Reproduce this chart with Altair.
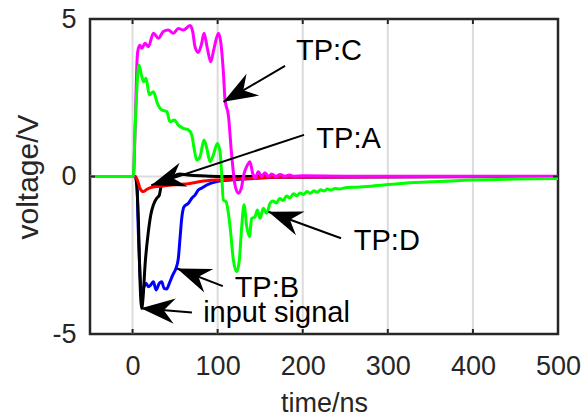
import math
import altair as alt
import pandas as pd

# ---------------- data ----------------
# TP:C (magenta)
tC = [-50, 0, 1, 3, 5.5, 6.8, 8.8, 10.8, 14.7, 18.6, 24.5, 30.4, 36.2, 42, 48, 53.8, 59.7,
      67.6, 70.7, 73.4, 77.3, 81.3, 84, 87.9, 91.9, 95.8, 100.9, 103.6, 106.7, 108.7, 112.6,
      116.5, 120.4, 124.3, 128.3, 130.2, 134.2, 138, 141.2, 144, 147.8, 151.7, 155.6, 159.6,
      163.5, 168.6, 173.3, 179, 184.2, 189.6, 200, 250, 300, 400, 500]
vC = [0, 0, 0, 1.5, 3.8, 4.07, 4.17, 4.07, 4.23, 4.12, 4.55, 4.39, 4.6, 4.65, 4.55, 4.7, 4.65,
      4.79, 4.6, 4.12, 3.94, 4.23, 4.55, 4.07, 3.64, 4.07, 4.55, 4.28, 3.33, 2.43, 1.95,
      0.68, -0.27, -0.53, -0.32, 0.0, 0.32, 0.47, 0.1, -0.06, 0.15, 0.0, 0.12, 0.0,
      0.08, 0.0, 0.06, 0.01, 0.05, 0.01, 0.02, 0.01, 0.01, 0.01, 0.01]

# TP:D (green)
tD = [-50, 0, 1, 3, 5.5, 7.5, 9.6, 12.7, 15.9, 19.7, 24.5, 29.2, 34.3, 40.2, 44, 49.1, 53.8,
      59.7, 65.6, 69.6, 72.3, 75.4, 79.3, 84, 87.2, 91.1, 94.9, 99.6, 102.8, 104.8, 106.7,
      109.9, 114.6, 118.5, 122.4, 125.5, 128.3, 131, 134.2, 137.3, 140, 143.9, 146.7, 149.8,
      153.7, 157.7, 161.6, 165, 169, 173, 177, 181, 185, 189, 193, 197, 201, 205, 209, 213,
      217, 221, 225, 229, 233, 238, 243, 250, 260, 275, 295, 315, 350, 400, 450, 500]
vD = [0, 0, 0.05, 1.5, 3.0, 3.54, 3.33, 3.01, 3.12, 2.59, 2.69, 2.32, 2.11, 2.06, 1.74, 1.79, 1.63,
      1.53, 1.48, 1.32, 0.9, 0.52, 0.63, 1.16, 0.9, 0.47, 0.68, 1.05, 0.79, 0.05, -0.75,
      -0.8, -1.59, -2.65, -3.02, -2.65, -1.59, -0.9, -1.59, -1.91, -1.33, -1.28, -1.06, -1.33,
      -1.01, -1.17, -0.85, -0.78, -0.84, -0.70, -0.76, -0.62, -0.68, -0.55, -0.61, -0.52, -0.57,
      -0.48, -0.53, -0.45, -0.50, -0.42, -0.46, -0.40, -0.43, -0.38, -0.40, -0.36, -0.34, -0.32,
      -0.27, -0.22, -0.17, -0.11, -0.08, -0.06]

# TP:A (red)
tA = [-50, 0, 3, 6.8, 8.8, 12.7, 16, 22.6, 36.2, 50, 67.6, 80, 99, 120, 138, 160, 500]
vA = [0, 0, 0, -0.2, -0.38, -0.48, -0.42, -0.34, -0.30, -0.26, -0.22, -0.16, -0.11, -0.08, -0.06, -0.02, 0]

# TP:B (blue)
tB = [-50, 0, 3, 4.9, 6.8, 8.8, 10.8, 13.5, 15.9, 18.6, 21.4, 24.5, 27.6, 31.5, 34.3, 37, 40.2,
      43.2, 47.2, 51.1, 53.8, 55.8, 57.8, 60.5, 65.6, 69.6, 73.4, 77.3, 81.3, 87.2, 99, 114.6,
      142, 170, 500]
vB = [0, 0, 0, -0.1, -1.75, -3.13, -3.66, -3.5, -3.39, -3.5, -3.44, -3.34, -3.6, -3.39, -3.34, -3.55, -3.57,
      -3.39, -3.13, -2.91, -2.6, -1.96, -1.33, -0.96, -0.85, -0.69, -0.59, -0.43, -0.37, -0.27, -0.16, -0.11,
      -0.06, -0.02, 0]

# input signal (black)
tI = [-50, 0, 3, 5, 7, 9, 10.8, 12.5, 14.7, 18.6, 21.4, 24.5, 28.4, 31.5, 33.1, 34.3, 38, 45, 55, 65, 80, 100, 500]
vI = [0, 0, 0, -0.3, -1.5, -3.5, -4.18, -3.8, -2.81, -1.75, -1.22, -0.9, -0.69, -0.59, -0.37, -0.27, -0.15,
      -0.05, 0.08, 0.05, 0.02, 0, 0]

series = [
    ("TP:B", tB, vB, "#0000ff"),
    ("input signal", tI, vI, "#000000"),
    ("TP:A", tA, vA, "#ff0000"),
    ("TP:C", tC, vC, "#ff00ff"),
    ("TP:D", tD, vD, "#00ff00"),
]

# annotations: label, text position (t, v baseline), arrow tail (t, v), arrow tip (t, v)
ann_label = ["TP:C", "TP:A", "TP:D", "TP:B", "input signal"]
ann_text_t = [192, 216, 260, 120, 83]
ann_text_v = [3.70, 0.90, -2.33, -3.83, -4.62]
ann_tail_t = [179.2, 201.5, 245, 106.1, 69.8]
ann_tail_v = [3.51, 1.32, -1.96, -3.48, -4.32]
ann_tip_t = [106.9, 22, 159.6, 52.3, 9.8]
ann_tip_v = [2.37, -0.28, -1.12, -2.92, -4.18]

x_ticks = [0, 100, 200, 300, 400, 500]
y_ticks = [-5, 0, 5]
x_grid = [0, 100, 200, 300, 400]
y_grid = [0]

# ---------------- chart ----------------
W, H = 468, 315
X_DOM = [-50, 500]
Y_DOM = [-5, 5]
FONT = "Liberation Sans"
AX = "#262626"

xs = alt.Scale(domain=X_DOM, nice=False, zero=False)
ys = alt.Scale(domain=Y_DOM, nice=False, zero=False)

XAX = alt.Axis(values=x_ticks, grid=False, ticks=False, tickSize=0, domain=False,
               labelExpr="'' + datum.value",
               labelFont=FONT, labelFontSize=27, labelColor=AX, labelPadding=19,
               labelFlush=False,
               titleFont=FONT, titleFontSize=27, titleFontWeight="normal",
               titleColor=AX, titlePadding=11)
YAX = alt.Axis(values=y_ticks, grid=False, ticks=False, tickSize=0, domain=False,
               labelExpr="'' + datum.value", labelAlign="right",
               labelFont=FONT, labelFontSize=27, labelColor=AX, labelPadding=14,
               labelFlush=False,
               titleFont=FONT, titleFontSize=30, titleFontWeight="normal",
               titleColor=AX, titlePadding=8)


def X(field):
    return alt.X(field, scale=xs, axis=XAX, title="time/ns")


def Y(field):
    return alt.Y(field, scale=ys, axis=YAX, title="voltage/V")


px_t = W / (X_DOM[1] - X_DOM[0])
px_v = H / (Y_DOM[1] - Y_DOM[0])

gx = alt.Chart(pd.DataFrame({"t": x_grid})).mark_rule(color="#dcdcdc", strokeWidth=2).encode(
    x=X("t:Q"))
gy = alt.Chart(pd.DataFrame({"v": y_grid})).mark_rule(color="#dcdcdc", strokeWidth=2).encode(
    y=Y("v:Q"))

# inward tick marks
tick_df = pd.DataFrame({"t": x_grid})
tk_top = alt.Chart(tick_df).mark_rule(color=AX, strokeWidth=2).encode(
    x=X("t:Q"), y=alt.value(0), y2=alt.value(5))
tk_bot = alt.Chart(tick_df).mark_rule(color=AX, strokeWidth=2).encode(
    x=X("t:Q"), y=alt.value(H), y2=alt.value(H - 5))
ytick_df = pd.DataFrame({"v": [0]})
tk_left = alt.Chart(ytick_df).mark_rule(color=AX, strokeWidth=2).encode(
    y=Y("v:Q"), x=alt.value(0), x2=alt.value(5))
tk_right = alt.Chart(ytick_df).mark_rule(color=AX, strokeWidth=2).encode(
    y=Y("v:Q"), x=alt.value(W), x2=alt.value(W - 5))

layers = [gx, gy]
for name, t, v, col in series:
    df = pd.DataFrame({"t": t, "v": v, "i": list(range(len(t)))})
    layers.append(
        alt.Chart(df).mark_line(color=col, strokeWidth=3, strokeJoin="round",
                                strokeCap="round", interpolate="monotone", clip=True).encode(
            x=X("t:Q"),
            y=Y("v:Q"),
            order="i:Q",
        )
    )

# arrows
angles = []
for a in range(len(ann_label)):
    dx = (ann_tip_t[a] - ann_tail_t[a]) * px_t
    dy = -(ann_tip_v[a] - ann_tail_v[a]) * px_v
    angles.append(math.degrees(math.atan2(dx, -dy)) % 360)

ann_df = pd.DataFrame({
    "label": ann_label,
    "tt": ann_text_t, "tv": ann_text_v,
    "t0": ann_tail_t, "v0": ann_tail_v,
    "t1": ann_tip_t, "v1": ann_tip_v,
    "ang": angles,
})

arrow_lines = alt.Chart(ann_df).mark_rule(color="black", strokeWidth=2).encode(
    x=X("t0:Q"), y=Y("v0:Q"), x2="t1:Q", y2="v1:Q")

HEAD = "M0,0 L0.74,2 L0,1.35 L-0.74,2 Z"
arrow_heads = alt.Chart(ann_df).mark_point(
    shape=HEAD, filled=True, color="black", opacity=1, size=1156, strokeWidth=0
).encode(
    x=X("t1:Q"), y=Y("v1:Q"),
    angle=alt.Angle("ang:Q", scale=None),
)

labels = alt.Chart(ann_df).mark_text(
    align="left", baseline="alphabetic", font=FONT, fontSize=29, color="black"
).encode(
    x=X("tt:Q"), y=Y("tv:Q"),
    text="label:N",
)

layers += [arrow_lines, arrow_heads, labels, tk_top, tk_bot, tk_left, tk_right]

chart = alt.layer(*layers).properties(
    width=W, height=H,
    autosize=alt.AutoSizeParams(type="none"),
    padding={"left": 90, "top": 19, "right": 25, "bottom": 83},
    background="white",
).configure_view(stroke=AX, strokeWidth=2.5)

chart.save("out.html", embed_options={"renderer": "svg", "actions": False})
